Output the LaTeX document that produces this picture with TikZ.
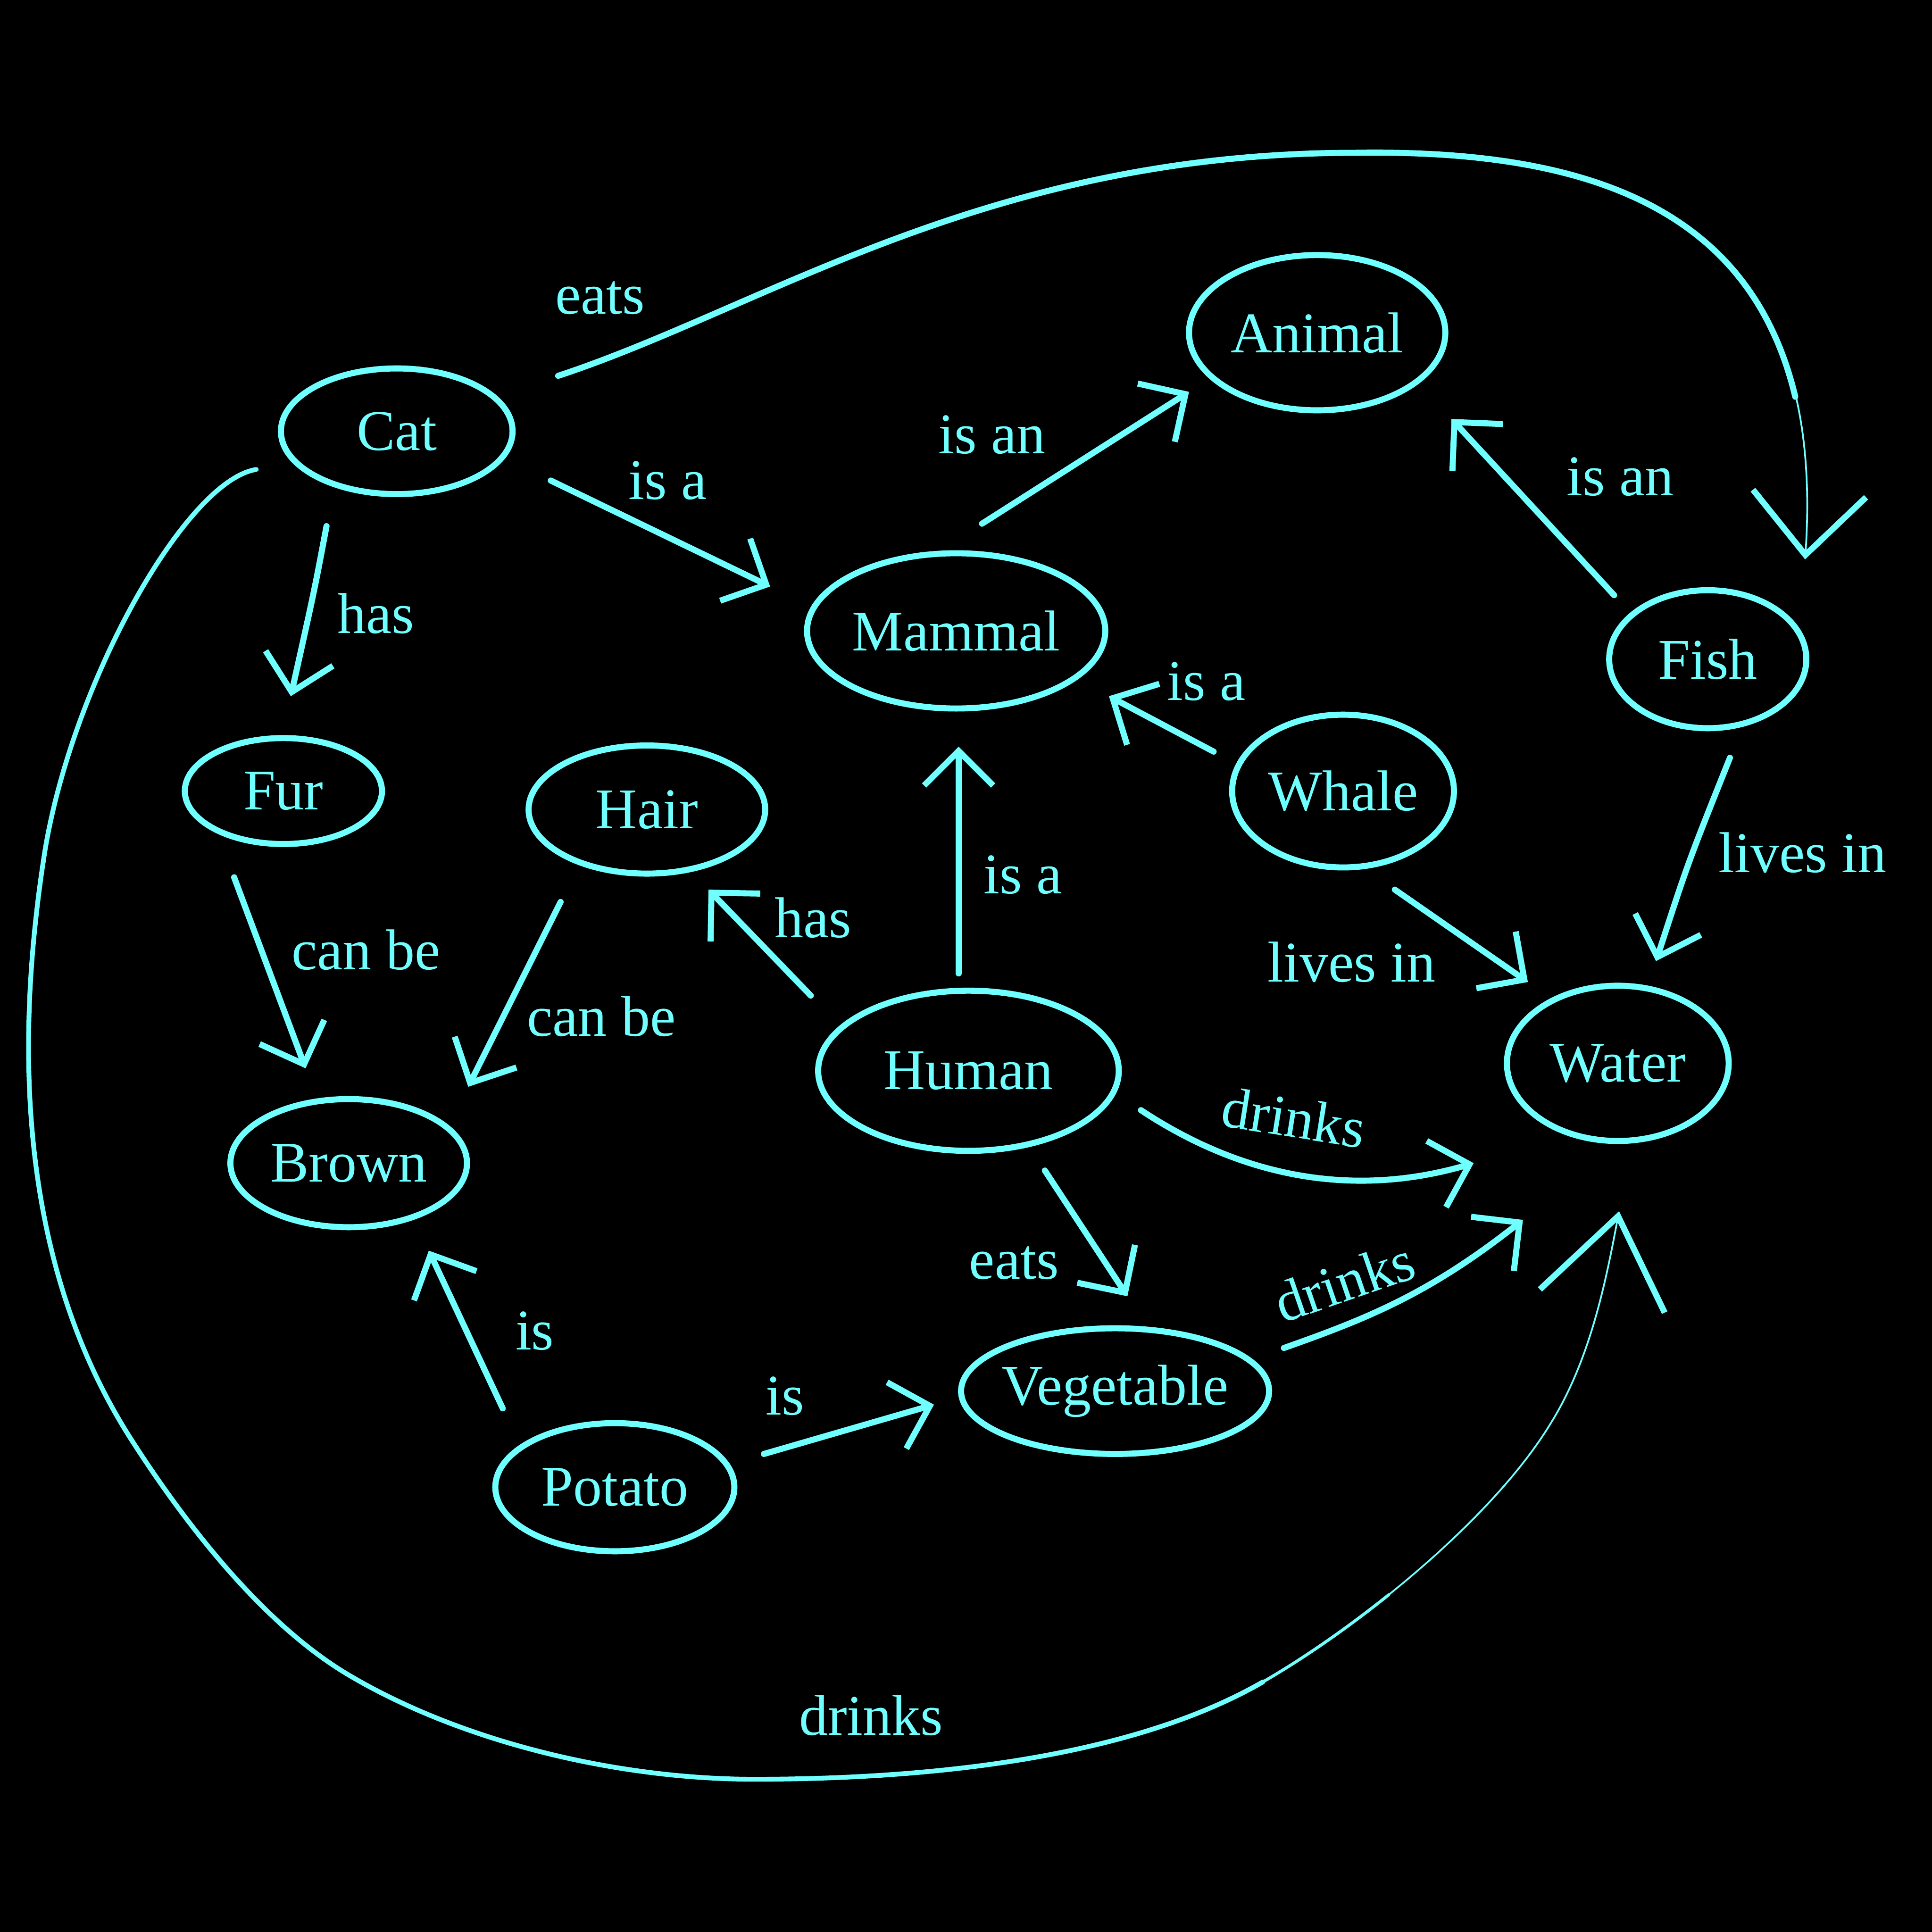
\documentclass[tikz,border=0pt]{standalone}
\usepackage{fontspec}
\setmainfont{Liberation Serif}
\usetikzlibrary{arrows.meta,shapes.geometric}
\definecolor{chalk}{HTML}{6FFFFF}
\begin{document}
\begin{tikzpicture}[x=0.1mm,y=-0.1mm,
  concept/.style={ellipse,draw=chalk,line width=1.4pt,inner sep=0pt,outer sep=0pt,text=chalk,font=\fontsize{13.3}{16}\selectfont},
  rel/.style={draw=chalk,line width=1.4pt,line cap=round,line join=round,-{Straight Barb[length=2.8mm,width=5.6mm]}},
  chalkline/.style={draw=chalk,line width=1.4pt,line cap=round,line join=round},
  faint/.style={draw=chalk,line width=0.4pt,line cap=round,line join=round},
  lab/.style={text=chalk,font=\fontsize{13.3}{16}\selectfont,inner sep=0pt}]
\fill[black] (0,0) rectangle (1568,1568);
\useasboundingbox (0,0) rectangle (1568,1568);

% concepts
\node[concept,minimum width=18.8mm,minimum height=10.2mm] (cat) at (322,350) {Cat};
\node[concept,minimum width=20.8mm,minimum height=12.6mm] (animal) at (1069,270) {Animal};
\node[concept,minimum width=24.2mm,minimum height=12.6mm] (mammal) at (776,512) {Mammal};
\node[concept,minimum width=16mm,minimum height=11.2mm] (fish) at (1386,535) {Fish};
\node[concept,minimum width=18mm,minimum height=12.4mm] (whale) at (1090,642) {Whale};
\node[concept,minimum width=16mm,minimum height=8.6mm] (fur) at (230,642) {Fur};
\node[concept,minimum width=19.2mm,minimum height=10.4mm] (hair) at (525,657) {Hair};
\node[concept,minimum width=24.4mm,minimum height=13mm] (human) at (786,869) {Human};
\node[concept,minimum width=18mm,minimum height=12.6mm] (water) at (1313,863) {Water};
\node[concept,minimum width=19.2mm,minimum height=10.4mm] (brown) at (283,944) {Brown};
\node[concept,minimum width=25mm,minimum height=10.2mm,inner xsep=-1.5mm] (vegetable) at (905,1129) {Vegetable};
\node[concept,minimum width=19.4mm,minimum height=10.4mm] (potato) at (499,1207) {Potato};

% straight relations
\draw[rel] ([shift={(125,40)}]cat.center) -- ([shift={(-151,-36)}]mammal.center);
\draw[rel] ([shift={(21,-87)}]mammal.center) -- ([shift={(-104,48)}]animal.center);
\draw[rel] ([shift={(-76,-52)}]fish.center) -- ([shift={(109,70)}]animal.center);
\draw[rel] ([shift={(-57,77)}]cat.center) .. controls (255,480) .. ([shift={(6,-77)}]fur.center);
\draw[rel] ([shift={(-105,-32)}]whale.center) -- ([shift={(124,53)}]mammal.center);
\draw[rel] ([shift={(-8,-79)}]human.center) -- ([shift={(2,94)}]mammal.center);
\draw[rel] ([shift={(-128,-61)}]human.center) -- ([shift={(50,65)}]hair.center);
\draw[rel] ([shift={(-40,70)}]fur.center) -- ([shift={(-35,-77)}]brown.center);
\draw[rel] ([shift={(-70,75)}]hair.center) -- ([shift={(97,-62)}]brown.center);
\draw[rel] ([shift={(42,80)}]whale.center) -- ([shift={(-73,-66)}]water.center);
\draw[rel] ([shift={(18,80)}]fish.center) .. controls (1370,700) .. ([shift={(31,-83)}]water.center);
\draw[rel] ([shift={(62,81)}]human.center) -- ([shift={(10,-77)}]vegetable.center);
\draw[rel] ([shift={(-91,-64)}]potato.center) -- ([shift={(65,71)}]brown.center);
\draw[rel] ([shift={(121,-27)}]potato.center) -- ([shift={(-147,11)}]vegetable.center);

% curved relations
\draw[rel] ([shift={(140,32)}]human.center) .. controls (1000,950) and (1090,975) .. ([shift={(-117,81)}]water.center);
\draw[rel] ([shift={(137,-35)}]vegetable.center) .. controls (1110,1070) and (1160,1050) .. ([shift={(-77,127)}]water.center);

% cat eats fish
\draw[faint,-{Straight Barb[length=5mm,width=9.2mm,line width=1.4pt]}]
  ([shift={(131,-45)}]cat.center) .. controls (620,250) and (800,124) .. (1100,124)
  .. controls (1340,120) and (1482,200) .. ([shift={(79,-81)}]fish.center);
\draw[chalkline] ([shift={(131,-45)}]cat.center) .. controls (620,250) and (800,124) .. (1100,124)
  .. controls (1292,121) and (1421,171) .. (1457,322);

% cat drinks water
\draw[faint,-{Straight Barb[length=7mm,width=10.3mm,line width=1.4pt]}]
  ([shift={(-114,31)}]cat.center) .. controls (150,390) and (55,560) .. (35,700)
  .. controls (12.5,850) and (15,1026) .. (107,1169)
  .. controls (150,1236) and (211,1315) .. (279,1357)
  .. controls (373,1414) and (502,1444) .. (612,1444)
  .. controls (762,1444) and (921,1425) .. (1025,1365)
  .. controls (1103,1320) and (1211,1233) .. (1258,1156)
  .. controls (1290,1105) and (1303,1042) .. ([shift={(1,120)}]water.center);
\draw[draw=chalk,line width=1.1pt,line cap=round,line join=round]
  ([shift={(-114,31)}]cat.center) .. controls (150,390) and (55,560) .. (35,700)
  .. controls (12.5,850) and (15,1026) .. (107,1169)
  .. controls (150,1236) and (211,1315) .. (279,1357)
  .. controls (373,1414) and (502,1444) .. (612,1444)
  .. controls (762,1444) and (921,1425) .. (1025,1365);
\draw[draw=chalk,line width=0.7pt,line cap=round]
  (1025,1365) .. controls (1056.2,1347) and (1092.2,1322.3) .. (1127.2,1294.2);

% labels
\node[lab] (l1) at (487,242) {eats};
\node[lab] (l2) at (542,390) {is a};
\node[lab] (l3) at (805,353) {is an};
\node[lab] (l4) at (1315,387) {is an};
\node[lab] (l5) at (305,498) {has};
\node[lab] (l6) at (979,553) {is a};
\node[lab] (l7) at (830,710) {is a};
\node[lab] (l8) at (660,745) {has};
\node[lab] (l9) at (297,771) {can be};
\node[lab] (l10) at (488,825) {can be};
\node[lab] (l11) at (1097,781) {lives in};
\node[lab] (l12) at (1463,692) {lives in};
\node[lab,rotate=-9] (l13) at (1050,907) {drinks};
\node[lab,rotate=19] (l14) at (1091,1040) {drinks};
\node[lab] (l15) at (823,1025) {eats};
\node[lab] (l16) at (434,1080) {is};
\node[lab] (l17) at (637,1133) {is};
\node[lab] (l18) at (707,1392) {drinks};
\end{tikzpicture}
\end{document}
